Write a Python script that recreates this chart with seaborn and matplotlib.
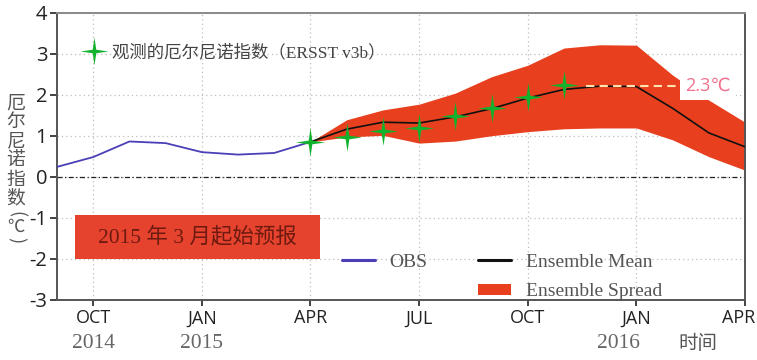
import numpy as np
import pandas as pd
import seaborn as sns
import matplotlib.pyplot as plt
import matplotlib.transforms as mtransforms
from matplotlib.path import Path
from matplotlib.lines import Line2D
from matplotlib.patches import Patch, Rectangle

# months counted from Sep 2014 (0) to Apr 2016 (19)
obs_months = [0, 1, 2, 3, 4, 5, 6, 7]
obs_values = [0.24, 0.48, 0.86, 0.82, 0.60, 0.54, 0.58, 0.85]

fc_months = [7, 8, 9, 10, 11, 12, 13, 14, 15, 16, 17, 18, 19]
ens_mean = [0.85, 1.16, 1.33, 1.31, 1.46, 1.66, 1.92, 2.13, 2.21, 2.20, 1.67, 1.07, 0.73]
spread_hi = [0.85, 1.39, 1.63, 1.77, 2.04, 2.44, 2.72, 3.14, 3.22, 3.21, 2.48, 1.87, 1.33]
spread_lo = [0.85, 0.97, 1.01, 0.82, 0.87, 1.00, 1.10, 1.17, 1.19, 1.19, 0.90, 0.49, 0.16]

ersst_months = [7, 8, 9, 10, 11, 12, 13, 14]
ersst_values = [0.85, 0.96, 1.12, 1.18, 1.49, 1.67, 1.94, 2.24]

peak_value = 2.22
peak_label = "2.3℃"

tick_months = [1, 4, 7, 10, 13, 16, 19]
tick_labels = ["OCT", "JAN", "APR", "JUL", "OCT", "JAN", "APR"]
year_months = [1, 4, 15.5]
year_labels = ["2014", "2015", "2016"]

purple = "#4b3fb8"
red = "#e8401e"
green = "#12b22e"

sns.set_style("ticks")
plt.rcParams["font.family"] = ["Open Sans", "DejaVu Sans"]
plt.rcParams["axes.unicode_minus"] = False

# thin four-point star marker
verts = []
for k in range(8):
    r = 1.0 if k % 2 == 0 else 0.18
    a = np.pi / 2 + k * np.pi / 4
    verts.append((r * np.cos(a), r * np.sin(a)))
verts.append(verts[0])
star = Path(verts, closed=True)

obs_df = pd.DataFrame({"month": obs_months, "nino": obs_values})
fc_df = pd.DataFrame({"month": fc_months, "mean": ens_mean, "lo": spread_lo, "hi": spread_hi})
ersst_df = pd.DataFrame({"month": ersst_months, "nino": ersst_values})

fig = plt.figure(figsize=(7.57, 3.6), dpi=100)
ax = fig.add_axes([0.0753, 0.1675, 0.9089, 0.797])

ax.grid(True, linestyle=(0, (1, 2.5)), color="#bdbdbd", linewidth=0.9, zorder=0)
ax.axhline(0, color="#222222", linestyle=(0, (4, 2, 1, 2)), linewidth=0.9, zorder=1)

sns.lineplot(data=obs_df, x="month", y="nino", color=purple, linewidth=1.3, ax=ax, zorder=3)
ax.fill_between(fc_df["month"], fc_df["lo"], fc_df["hi"], color=red, linewidth=0, zorder=2)
sns.lineplot(data=fc_df, x="month", y="mean", color="#111111", linewidth=1.2, ax=ax, zorder=3)
sns.scatterplot(data=ersst_df, x="month", y="nino", marker=star, s=430, color=green,
                linewidth=0, ax=ax, zorder=4)

ax.hlines(peak_value, 14.6, 17.2, colors="#ffe2ad", linestyles=(0, (4, 2.5)), linewidth=1.5, zorder=4)
ax.text(17.35, peak_value, peak_label, color="#f0708c", fontsize=13, va="center", ha="left",
        family=["Open Sans", "DejaVu Sans"], zorder=5,
        bbox=dict(boxstyle="square,pad=0.3", facecolor="white", edgecolor="none"))

ax.set_xlim(0, 19)
ax.set_ylim(-3, 4)
ax.set_xticks(tick_months)
ax.set_xticklabels(tick_labels)
ax.set_yticks(range(-3, 5))
ax.set_xlabel("")
ax.set_ylabel("")
ax.tick_params(axis="x", labelsize=13, colors="#222222", length=4, width=1.2, pad=3)
ax.tick_params(axis="y", labelsize=14.5, colors="#222222", length=5, width=1.2, pad=2)
for s in ax.spines.values():
    s.set_color("#555555")
    s.set_linewidth(1.4)
ax.spines["top"].set_color("#8a8a8a")

# last month label sits slightly inside the figure edge
last = ax.get_xticklabels()[-1]
last.set_transform(last.get_transform() + mtransforms.ScaledTranslation(-6 / 100, 0, fig.dpi_scale_trans))

# forecast start box
ax.add_patch(Rectangle((0.026, 0.142), 0.356, 0.153, transform=ax.transAxes,
                       facecolor="#e6432e", edgecolor="none", zorder=5))
ax.text(0.204, 0.218, "2015 年 3 月起始预报", transform=ax.transAxes, ha="center", va="center",
        fontsize=15.5, color="#6e1a10", family=["Liberation Serif", "Noto Sans CJK SC"], zorder=6)

# legends
leg1 = ax.legend(handles=[Line2D([], [], marker=star, linestyle="none", markersize=20,
                                 color=green, markeredgewidth=0)],
                 labels=["观测的厄尔尼诺指数（ERSST v3b）"], loc="center left",
                 bbox_to_anchor=(0.035, 0.862), frameon=False, handlelength=1.5,
                 handletextpad=0.3, borderpad=0, borderaxespad=0,
                 prop={"family": ["Liberation Serif", "Noto Sans CJK SC"], "size": 12.5})
for t in leg1.get_texts():
    t.set_color("#444444")
ax.add_artist(leg1)

handles = [Line2D([], [], color=purple, linewidth=2.2),
           Line2D([], [], color="none"),
           Line2D([], [], color="#111111", linewidth=2.2),
           Patch(facecolor=red, edgecolor="none")]
labels = ["OBS", "", "Ensemble Mean", "Ensemble Spread"]
leg2 = ax.legend(handles=handles, labels=labels, ncol=2, loc="upper left",
                 bbox_to_anchor=(0.414, 0.161), frameon=False, handlelength=1.7,
                 handleheight=0.5, handletextpad=0.75, columnspacing=2.6, labelspacing=0.65,
                 borderpad=0, borderaxespad=0, prop={"family": "Liberation Serif", "size": 14})
for t in leg2.get_texts():
    t.set_color("#555555")

# year labels under month ticks
for m, y in zip(year_months, year_labels):
    ax.text(m, -0.151, y, transform=ax.get_xaxis_transform(), ha="center", va="center",
            fontsize=15.5, color="#666666", family="Liberation Serif")
ax.text(17.7, -0.151, "时间", transform=ax.get_xaxis_transform(), ha="center", va="center",
        fontsize=14, color="#555555", family="Noto Sans CJK SC")

# stacked vertical y label
ylab_chars = ["厄", "尔", "尼", "诺", "指", "数"]
for i, c in enumerate(ylab_chars):
    fig.text(0.021, 1 - (103 + i * 19) / 360, c, ha="center", va="center", fontsize=13.5,
             color="#555555", family="Noto Sans CJK SC")
for c, yp in zip(["(", ")"], [214, 240]):
    fig.text(0.021, 1 - yp / 360, c, ha="center", va="center", fontsize=13, rotation=-90,
             color="#555555", family="Noto Sans CJK SC")
fig.text(0.021, 1 - 227 / 360, "℃", ha="center", va="center", fontsize=12.5,
         color="#555555", family=["Noto Sans CJK SC", "DejaVu Sans"])

fig.savefig("out.png", dpi=100)
